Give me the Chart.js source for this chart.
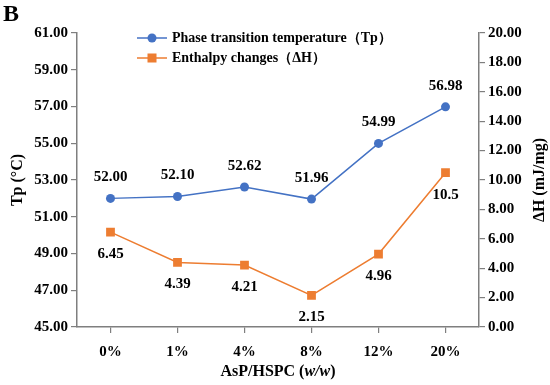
<!DOCTYPE html>
<html>
<head>
<meta charset="utf-8">
<script src="https://cdn.jsdelivr.net/npm/chart.js@4.4.1/dist/chart.umd.min.js"></script>
<style>
  html, body { margin: 0; padding: 0; background: #fff; }
  #wrap { width: 550px; height: 385px; position: relative; }
</style>
</head>
<body>
<div id="wrap"><canvas id="c" width="550" height="385"></canvas></div>
<script>
const categories = ['0%', '1%', '4%', '8%', '12%', '20%'];
const tpValues = [52.00, 52.10, 52.62, 51.96, 54.99, 56.98];
const tpLabels = ['52.00', '52.10', '52.62', '51.96', '54.99', '56.98'];
const dhValues = [6.45, 4.39, 4.21, 2.15, 4.96, 10.5];
const dhLabels = ['6.45', '4.39', '4.21', '2.15', '4.96', '10.5'];
const seriesNames = ['Phase transition temperature（Tp）', 'Enthalpy changes（ΔH）'];
const leftTitle = 'Tp (°C)';
const rightTitle = 'ΔH (mJ/mg)';

const FONT = '"Liberation Serif", "Times New Roman", serif';
const BLUE = '#4472C4';
const ORANGE = '#ED7D31';
const AXIS = '#7f7f7f';

const decor = {
  id: 'decor',
  afterDatasetsDraw(chart) {
    const ctx = chart.ctx;
    const area = chart.chartArea;
    ctx.save();
    ctx.fillStyle = '#000';
    ctx.textAlign = 'center';
    ctx.textBaseline = 'middle';
    ctx.font = 'bold 15px ' + FONT;
    // data labels
    const m0 = chart.getDatasetMeta(0).data;
    m0.forEach((p, i) => ctx.fillText(tpLabels[i], p.x, p.y - 21));
    const m1 = chart.getDatasetMeta(1).data;
    m1.forEach((p, i) => ctx.fillText(dhLabels[i], p.x, p.y + 22));

    // panel letter
    ctx.textAlign = 'left';
    ctx.font = 'bold 24px ' + FONT;
    ctx.fillText('B', 3, 15);

    // legend
    const colors = [BLUE, ORANGE];
    const styles = ['circle', 'rect'];
    ctx.font = 'bold 14px ' + FONT;
    [38, 58].forEach((y, i) => {
      ctx.strokeStyle = colors[i];
      ctx.lineWidth = 1.5;
      ctx.beginPath(); ctx.moveTo(137, y); ctx.lineTo(167, y); ctx.stroke();
      ctx.fillStyle = colors[i];
      if (styles[i] === 'circle') {
        ctx.beginPath(); ctx.arc(152, y, 4.5, 0, Math.PI * 2); ctx.fill();
      } else {
        ctx.fillRect(152 - 4.5, y - 4.5, 9, 9);
      }
      ctx.fillStyle = '#000';
      ctx.textAlign = 'left';
      ctx.fillText(seriesNames[i], 172, y);
    });

    // axis titles
    ctx.font = 'bold 16px ' + FONT;
    ctx.textAlign = 'center';
    const cy = (area.top + area.bottom) / 2;
    ctx.save(); ctx.translate(18, cy); ctx.rotate(-Math.PI / 2); ctx.fillText(leftTitle, 0, 0); ctx.restore();
    ctx.save(); ctx.translate(540, cy); ctx.rotate(-Math.PI / 2); ctx.fillText(rightTitle, 0, 0); ctx.restore();

    // x title with italic part
    const parts = [['bold 16px ' + FONT, 'AsP/HSPC ('], ['italic bold 16px ' + FONT, 'w/w'], ['bold 16px ' + FONT, ')']];
    let total = 0;
    parts.forEach(p => { ctx.font = p[0]; total += ctx.measureText(p[1]).width; });
    let x = (area.left + area.right) / 2 - total / 2;
    ctx.textAlign = 'left';
    parts.forEach(p => { ctx.font = p[0]; ctx.fillText(p[1], x, 372); x += ctx.measureText(p[1]).width; });
    ctx.restore();
  }
};

new Chart(document.getElementById('c'), {
  type: 'line',
  data: {
    labels: categories,
    datasets: [
      {
        label: seriesNames[0], data: tpValues, yAxisID: 'y',
        borderColor: BLUE, backgroundColor: BLUE, borderWidth: 1.5,
        pointStyle: 'circle', pointRadius: 4.5, pointBorderWidth: 0, tension: 0
      },
      {
        label: seriesNames[1], data: dhValues, yAxisID: 'y1',
        borderColor: ORANGE, backgroundColor: ORANGE, borderWidth: 1.5,
        pointStyle: 'rect', pointRadius: 6.2, pointBorderWidth: 0, tension: 0
      }
    ]
  },
  options: {
    responsive: false,
    animation: false,
    events: [],
    layout: { padding: { top: 33, left: 0, right: 0, bottom: 0 } },
    plugins: { legend: { display: false }, tooltip: { enabled: false } },
    scales: {
      x: {
        offset: true,
        grid: { offset: false, drawOnChartArea: false, drawTicks: true, tickLength: 6, color: AXIS, lineWidth: 1.2 },
        border: { display: true, color: AXIS, width: 1.5 },
        ticks: { color: '#000', font: { family: FONT, size: 15, weight: 'bold' }, padding: 10, maxRotation: 0 },
        afterFit(s) { s.height = 58; }
      },
      y: {
        position: 'left', min: 45, max: 61,
        grid: { drawOnChartArea: false, drawTicks: true, tickLength: 6, color: AXIS, lineWidth: 1.2 },
        border: { display: true, color: AXIS, width: 1.5 },
        ticks: { stepSize: 2, color: '#000', font: { family: FONT, size: 15, weight: 'bold' }, padding: 3,
          callback: v => v.toFixed(2) },
        afterFit(s) { s.width = 77; }
      },
      y1: {
        position: 'right', min: 0, max: 20,
        grid: { drawOnChartArea: false, drawTicks: true, tickLength: 6, color: AXIS, lineWidth: 1.2 },
        border: { display: true, color: AXIS, width: 1.5 },
        ticks: { stepSize: 2, color: '#000', font: { family: FONT, size: 15, weight: 'bold' }, padding: 3,
          callback: v => v.toFixed(2) },
        afterFit(s) { s.width = 71; }
      }
    }
  },
  plugins: [decor]
});
</script>
</body>
</html>
